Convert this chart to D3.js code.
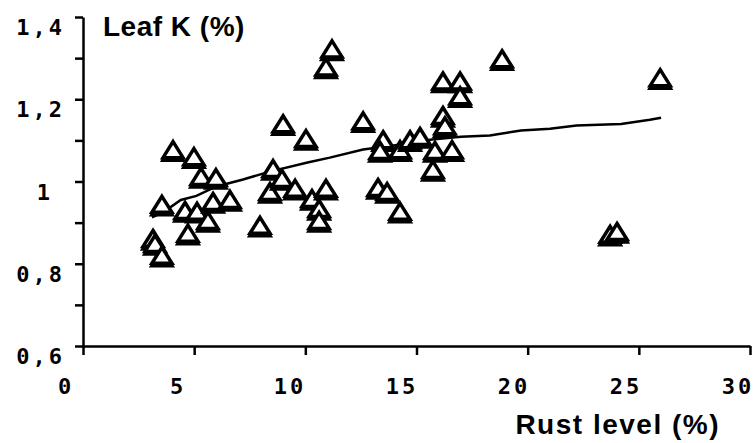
<!DOCTYPE html>
<html>
<head>
<meta charset="utf-8">
<script src="https://d3js.org/d3.v7.min.js"></script>
<style>
  html, body { margin: 0; padding: 0; background: #fff; }
  svg { display: block; }
  .tick-label { font-family: "DejaVu Sans Mono", monospace; font-weight: bold; font-size: 22px; letter-spacing: 3px; fill: #000; }
  .title { font-family: "Liberation Sans", Arial, sans-serif; font-weight: bold; font-size: 28px; letter-spacing: 0.5px; fill: #000; }
</style>
</head>
<body>
<svg id="chart" width="755" height="443"></svg>
<script>
// values
const rustLevel = [3.15, 3.24, 3.55, 3.55, 4.05, 4.99, 4.59, 5.13, 4.72, 5.31, 5.98, 5.85, 5.62, 6.61,
  7.96, 8.41, 8.55, 8.95, 9.00, 9.54, 10.03, 10.30, 10.62, 10.62, 10.93, 10.93, 11.20, 12.60,
  13.50, 13.36, 13.27, 13.68, 14.26, 14.26, 14.71, 15.16, 15.83, 15.74, 16.60, 16.19, 16.28,
  16.19, 16.96, 16.96, 18.85, 23.71, 24.02, 25.96];
const leafK = [0.859, 0.847, 0.818, 0.942, 1.075, 1.058, 0.927, 0.925, 0.872, 1.010, 1.007, 0.949, 0.903, 0.954,
  0.891, 0.973, 1.029, 1.005, 1.138, 0.981, 1.102, 0.956, 0.932, 0.903, 0.981, 1.276, 1.320, 1.145,
  1.099, 1.073, 0.983, 0.973, 1.075, 0.925, 1.099, 1.107, 1.073, 1.027, 1.075, 1.158, 1.133,
  1.242, 1.242, 1.206, 1.296, 0.869, 0.876, 1.250];

// trend line vertices (as drawn in the reference)
const trendX = [3.1, 3.6, 4.4, 5.1, 6.0, 7.2, 8.4, 10.1, 11.1, 12.6, 14.3, 15.7, 17.0, 18.3, 19.7, 21.0, 22.2, 24.2, 25.5, 26.0];
const trendY = [0.913, 0.925, 0.955, 0.965, 0.988, 1.005, 1.024, 1.046, 1.058, 1.078, 1.090, 1.102, 1.109, 1.112, 1.124, 1.128, 1.136, 1.140, 1.150, 1.155];

const xTicks = [0, 5, 10, 15, 20, 25, 30];
const yTicks = [0.6, 0.8, 1.0, 1.2, 1.4];
const yMinorTicks = [0.7, 0.9, 1.1, 1.3];
const yTickLabels = ['0,6', '0,8', '1', '1,2', '1,4'];

const svg = d3.select('#chart');
const x = d3.scaleLinear().domain([0, 30]).range([83, 750]);
const y = d3.scaleLinear().domain([0.6, 1.4]).range([346, 17]);
// the x tick labels in the original sit a bit left of their ticks, drifting less toward the right
const xLabel = d3.scaleLinear().domain([0, 30]).range([66, 738]);

// axes
const yAxis = svg.append('g').attr('transform', `translate(${x(0)},0)`)
  .call(d3.axisLeft(y).tickValues(yTicks.concat(yMinorTicks)).tickSize(8).tickSizeOuter(0).tickFormat(''));
const xAxis = svg.append('g').attr('transform', `translate(0,${y(0.6)})`)
  .call(d3.axisBottom(x).tickValues(xTicks).tickSize(9).tickSizeOuter(0).tickFormat(''));
[xAxis, yAxis].forEach(a => {
  a.select('.domain').attr('stroke', '#000').attr('stroke-width', 2.5);
  a.selectAll('.tick line').attr('stroke', '#000').attr('stroke-width', 2.5);
});

// tick labels (y labels sit just below their tick, like the original)
svg.append('g').selectAll('text').data(yTicks).join('text')
  .attr('class', 'tick-label')
  .attr('x', (d, i) => yTickLabels[i].length === 1 ? 53 : 65)
  .attr('y', d => y(d) + 18)
  .attr('text-anchor', 'end')
  .text((d, i) => yTickLabels[i]);

svg.append('g').selectAll('text').data(xTicks).join('text')
  .attr('class', 'tick-label')
  .attr('x', d => xLabel(d))
  .attr('y', 394)
  .attr('text-anchor', 'middle')
  .text(d => d);

// titles
svg.append('text').attr('class', 'title').attr('x', 103).attr('y', 36).text('Leaf K (%)');
svg.append('text').attr('class', 'title').attr('x', 720).attr('y', 434).attr('text-anchor', 'end')
  .style('letter-spacing', '1.5px').text('Rust level (%)');

// trend line
const trend = trendX.map((v, i) => [v, trendY[i]]);
svg.append('path')
  .datum(trend)
  .attr('fill', 'none')
  .attr('stroke', '#000')
  .attr('stroke-width', 2.5)
  .attr('d', d3.line().x(d => x(d[0])).y(d => y(d[1])));

// triangle markers, drawn twice with a small drop to get the heavy double base
const tri = 'M0,-9 L10,7 L-10,7 Z';
const points = rustLevel.map((v, i) => [v, leafK[i]]);
const markers = svg.append('g').selectAll('g').data(points).join('g')
  .attr('transform', d => `translate(${x(d[0])},${y(d[1])})`);
[2.5, 0].forEach(dy => {
  markers.append('path')
    .attr('d', tri)
    .attr('transform', `translate(0,${dy})`)
    .attr('fill', '#fff')
    .attr('stroke', '#000')
    .attr('stroke-width', 3.5)
    .attr('stroke-linejoin', 'miter');
});
</script>
</body>
</html>
